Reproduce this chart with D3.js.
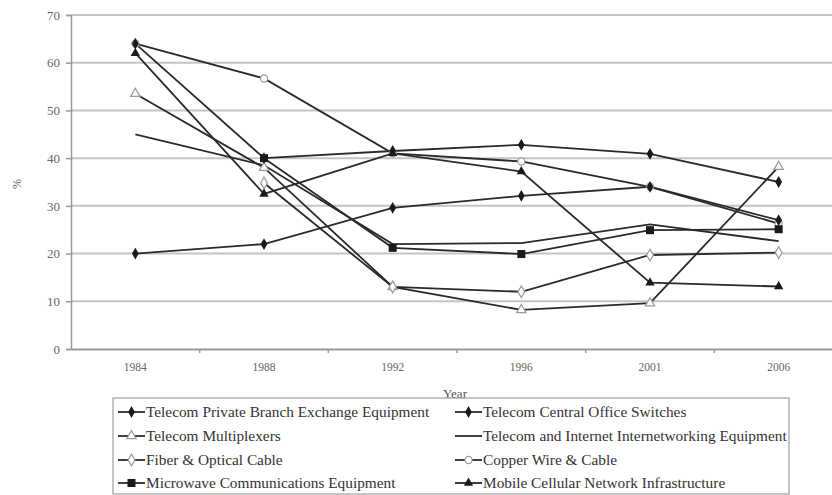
<!DOCTYPE html>
<html>
<head>
<meta charset="utf-8">
<script src="https://cdn.jsdelivr.net/npm/d3@7"></script>
<style>
  html, body { margin: 0; padding: 0; background: #fff; }
  svg { display: block; }
</style>
</head>
<body>
<svg id="chart" width="832" height="495"></svg>
<script>
// ---- data ----
const years = ["1984", "1988", "1992", "1996", "2001", "2006"];
const yTicks = [0, 10, 20, 30, 40, 50, 60, 70];
const seriesNames = [
  "Telecom Private Branch Exchange Equipment",
  "Telecom Central Office Switches",
  "Telecom Multiplexers",
  "Telecom and Internet Internetworking Equipment",
  "Fiber & Optical Cable",
  "Copper Wire & Cable",
  "Microwave Communications Equipment",
  "Mobile Cellular Network Infrastructure"
];
const pbx             = [20, 22, 29.6, 32.1, 34, 27];
const centralOffice   = [64, 40, 41.5, 42.8, 40.9, 35];
const multiplexers    = [53.5, 38, 13, 8.2, 9.6, 38.2];
const internetworking = [45, 38.5, 22, 22.2, 26.1, 22.6];
const fiber           = [null, 34.8, 13, 12, 19.7, 20.2];
const copper          = [64, 56.7, 41, 39.3, 34, 26.3];
const microwave       = [null, 40, 21.2, 19.9, 24.9, 25.1];
const mobile          = [62, 32.5, 41, 37.2, 13.9, 13.1];
const seriesValues = [pbx, centralOffice, multiplexers, internetworking, fiber, copper, microwave, mobile];
const markerKinds = ["diamond", "diamond", "triangleOpen", "none", "diamondOpen", "circleOpen", "square", "triangle"];

const FONT = "'Liberation Serif', 'DejaVu Serif', 'Times New Roman', serif";

// ---- layout ----
const svg = d3.select("#chart");
const plot = { left: 71, right: 843, top: 15, bottom: 349 };
const x = d3.scaleBand().domain(years).range([plot.left, plot.right]).padding(0);
const y = d3.scaleLinear().domain([0, 70]).range([plot.bottom, plot.top]);
const cx = d => x(d) + x.bandwidth() / 2;

// gridlines
svg.append("g").selectAll("line").data(yTicks.filter(t => t > 0)).join("line")
  .attr("x1", plot.left).attr("x2", plot.right)
  .attr("y1", d => y(d)).attr("y2", d => y(d))
  .attr("stroke", "#c4c4c4").attr("stroke-width", 2);

// y axis
const yAxis = d3.axisLeft(y).tickValues(yTicks).tickSize(5).tickPadding(6).tickFormat(d3.format("d"));
const gy = svg.append("g").attr("transform", `translate(${plot.left},0)`).call(yAxis);
gy.attr("font-family", null);
gy.select(".domain").attr("stroke", "#9a9a9a").attr("stroke-width", 1.5);
gy.selectAll(".tick line").attr("stroke", "#9a9a9a").attr("stroke-width", 1.5);
gy.selectAll(".tick text").attr("fill", "#666").style("font-family", FONT).style("font-size", "13px");

// x axis
const xAxis = d3.axisBottom(x).tickSize(0).tickPadding(14);
const gx = svg.append("g").attr("transform", `translate(0,${plot.bottom})`).call(xAxis);
gx.attr("font-family", null);
gx.select(".domain").attr("stroke", "#9a9a9a").attr("stroke-width", 2);
gx.selectAll(".tick text").attr("fill", "#666").style("font-family", FONT).style("font-size", "11.5px");
// boundary ticks between categories
svg.append("g").selectAll("line").data(years.slice(1)).join("line")
  .attr("x1", d => x(d)).attr("x2", d => x(d))
  .attr("y1", plot.bottom).attr("y2", plot.bottom + 4)
  .attr("stroke", "#9a9a9a").attr("stroke-width", 1.5);

// axis titles
svg.append("text").attr("x", 455).attr("y", 398).attr("text-anchor", "middle")
  .style("font-family", FONT).style("font-size", "13px").attr("fill", "#555").text("Year");
svg.append("text").attr("transform", "translate(21,184) rotate(-90)").attr("text-anchor", "middle")
  .style("font-family", FONT).style("font-size", "12px").attr("fill", "#555").text("%");

// markers
const isOpen = k => k.endsWith("Open");
function drawMarker(g, kind, px, py) {
  const dark = "#1a1a1a", light = "#9a9a9a";
  const sym = {
    diamond: [d3.symbolDiamond, 40, dark, null],
    diamondOpen: [d3.symbolDiamond, 40, "#fff", light],
    square: [d3.symbolSquare, 64, dark, null],
    triangle: [d3.symbolTriangle, 38, dark, null],
    triangleOpen: [d3.symbolTriangle, 38, "#fff", light],
    circleOpen: [d3.symbolCircle, 40, "#fff", light]
  }[kind];
  if (!sym) return;
  const p = g.append("path").attr("d", d3.symbol(sym[0], sym[1])())
    .attr("transform", `translate(${px},${py})`).attr("fill", sym[2]);
  if (sym[3]) p.attr("stroke", sym[3]).attr("stroke-width", 1.2);
}

// series: lines first, then open markers, then filled markers on top
const line = d3.line().defined(d => d.v !== null).x(d => cx(d.year)).y(d => y(d.v));
const gLines = svg.append("g");
const gOpen = svg.append("g");
const gFilled = svg.append("g");
seriesValues.forEach((vals, i) => {
  const pts = years.map((yr, j) => ({ year: yr, v: vals[j] }));
  gLines.append("path").datum(pts).attr("d", line).attr("fill", "none")
    .attr("stroke", "#2a2a2a").attr("stroke-width", 1.8);
  const target = isOpen(markerKinds[i]) ? gOpen : gFilled;
  pts.filter(p => p.v !== null).forEach(p => drawMarker(target, markerKinds[i], cx(p.year), y(p.v)));
});

// legend
const lg = svg.append("g");
const legBox = { x: 113, y: 398, w: 676, h: 96 };
lg.append("rect").attr("x", legBox.x).attr("y", legBox.y).attr("width", legBox.w).attr("height", legBox.h)
  .attr("fill", "#fff").attr("stroke", "#a0a0a0").attr("stroke-width", 1.2);
const colX = [118, 455];
const rowY = [412, 436, 460, 483];
const texts = [];
seriesNames.forEach((name, i) => {
  const col = i % 2, row = Math.floor(i / 2);
  const sx = colX[col], sy = rowY[row];
  lg.append("line").attr("x1", sx).attr("x2", sx + 27).attr("y1", sy).attr("y2", sy)
    .attr("stroke", "#2a2a2a").attr("stroke-width", 1.8);
  drawMarker(lg, markerKinds[i], sx + 13.5, sy);
  texts.push(lg.append("text").attr("x", sx + 28).attr("y", sy + 5)
    .style("font-family", FONT).style("font-size", "14px").attr("fill", "#333").text(name));
});
// fit legend font so the longest entry spans the width seen in the reference
const longest = texts[3].node().getComputedTextLength();
const fs = 14 * 304 / longest;
texts.forEach(t => t.style("font-size", fs + "px"));
</script>
</body>
</html>
